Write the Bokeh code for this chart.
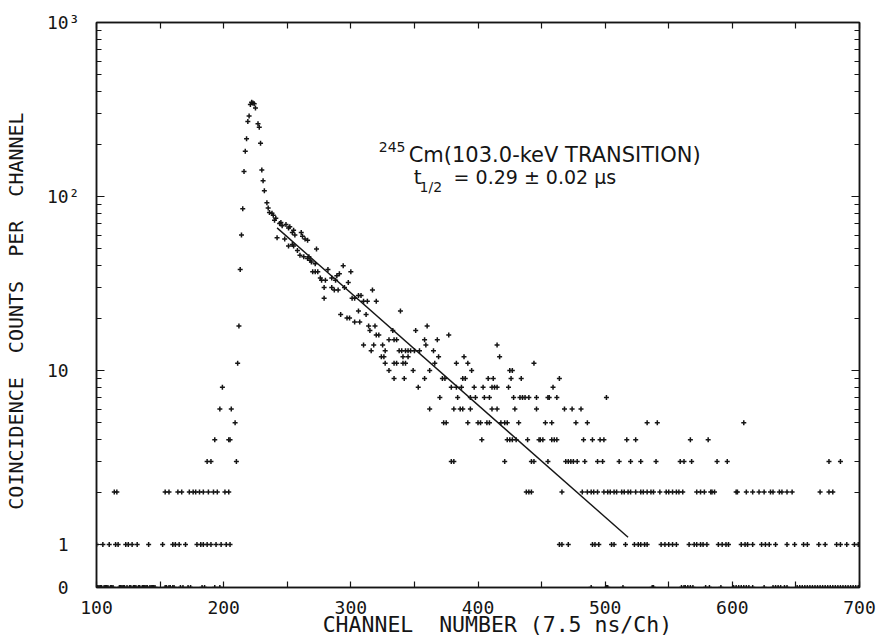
from bokeh.plotting import figure
from bokeh.models import FixedTicker, LinearAxis, LogAxis, Label, CustomJSTickFormatter
from bokeh.embed import file_html
from bokeh.resources import INLINE

# ---------------- data ----------------
# peak region: channel, counts
peak_ch = [197, 199, 206, 209, 211, 212, 213, 214, 215, 216, 217, 218, 219, 220, 221, 222,
           223, 224, 225, 227, 228, 229, 230, 231, 232, 234, 235, 236]
peak_n = [6, 8, 6, 5, 11, 18, 38, 60, 85, 139, 182, 215, 270, 290, 338, 348,
          345, 341, 323, 262, 250, 202, 142, 123, 108, 92, 86, 81]

# decay region (higher counts): channel, counts
decay_ch = [238, 239, 241, 240, 244, 245, 246, 249, 251, 252, 254, 255, 256, 261, 262, 264, 266,
            273, 242, 248, 251, 254, 255, 258, 260, 263, 266, 267, 268, 269, 272, 270, 272, 274,
            276, 277, 279, 280, 282, 285, 285, 287, 288, 289, 290, 291, 294, 295, 298, 300, 279,
            301, 303, 306, 308, 310, 313, 306, 312, 317, 320, 339, 292, 297, 299, 303, 307, 314,
            315, 319, 320, 322, 330, 334, 336, 333, 351, 360, 310, 316, 318, 325, 327, 324, 326,
            338, 340, 343, 345, 347, 350, 354, 341, 345, 334, 336, 341, 343, 327, 330, 349, 362,
            334, 342, 353]
decay_n = [80, 78, 75, 73, 70, 71, 68, 69, 66, 67, 62, 64, 60, 62, 59, 57, 56,
           50, 58, 57, 52, 53, 52, 49, 46, 45, 44, 45, 43, 42, 41, 37, 37, 37,
           34, 33, 30, 33, 38, 34, 30, 29, 33, 35, 29, 36, 40, 30, 32, 37, 26,
           26, 26, 27, 27, 25, 25, 22, 21, 29, 25, 22, 21, 20, 20, 19, 19, 18,
           17, 18, 16, 16, 15, 15, 15, 17, 17, 18, 14, 13, 14, 14, 13, 12, 12,
           13, 13, 13, 13, 13, 13, 13, 12, 12, 11, 11, 11, 11, 11, 10, 10, 10,
           9, 9, 8]

# low-count rows: channels at which the count equals the row value
rows = {
    1: [100, 105, 110, 115, 117, 123, 125, 128, 132, 141, 152, 160, 162, 165, 170, 179, 182,
        184, 187, 190, 194, 198, 202, 205,
        464, 466, 471, 490, 492, 495, 505, 507, 516, 523, 526, 528, 531, 533, 544, 547, 550,
        553, 556, 566, 570, 572, 575, 577, 580, 589, 592, 595, 597, 607, 610, 612, 616, 623,
        626, 629, 634, 643, 649, 656, 659, 668, 673, 682, 685, 690, 696, 699],
    2: [114, 116, 154, 157, 164, 167, 173, 176, 178, 181, 184, 188, 192, 195, 201, 204,
        438, 440, 442, 466, 482, 486, 489, 491, 494, 499, 502, 504, 507, 509, 513, 515, 518,
        520, 524, 528, 530, 533, 536, 538, 543, 548, 550, 553, 556, 558, 561, 572, 575, 578,
        583, 584, 586, 603, 604, 611, 616, 621, 625, 630, 632, 637, 639, 643, 647, 669, 676,
        679],
    3: [187, 190, 210, 379, 381, 421, 442, 444, 455, 469, 471, 473, 475, 478, 484, 494, 498,
        511, 520, 528, 540, 559, 562, 568, 588, 596, 676, 685],
    4: [193, 204, 205, 403, 423, 425, 427, 430, 439, 448, 449, 451, 458, 460, 462, 483, 490,
        496, 499, 517, 524, 567, 581],
    5: [373, 375, 392, 400, 402, 407, 409, 418, 421, 423, 432, 453, 458, 477, 486, 533, 541, 609],
    6: [362, 381, 386, 388, 394, 411, 415, 429, 446, 468, 474, 481],
    7: [370, 384, 394, 398, 405, 409, 428, 433, 435, 437, 440, 446, 455, 456, 462, 501],
    8: [379, 383, 387, 397, 404, 411, 413, 415, 424, 459],
    9: [358, 372, 374, 388, 390, 408, 412, 426, 434, 464],
    10: [395, 425, 427],
    11: [366, 383, 392, 444],
    12: [369, 389, 417],
    13: [365],
    14: [359, 415],
    15: [358, 368],
    16: [377],
}

# channels with zero counts (drawn on the baseline)
zero_ch = [101, 102, 103, 104, 106, 107, 108, 109, 111, 112, 113, 118, 119, 120, 121, 122, 124,
           126, 127, 129, 130, 131, 133, 134, 136, 137, 138, 139, 140, 142, 143, 144, 145, 146,
           154, 155, 157, 158, 160, 161, 166, 168, 172, 174, 183, 185, 193, 197,
           489, 501, 502, 514, 537, 538, 560, 562, 563, 565, 567, 569, 579, 582, 591, 601, 603,
           605, 607, 609, 611, 613, 616, 625, 632, 634, 636, 638, 641, 643, 651, 653, 655, 657,
           659, 661, 663, 665, 667, 669, 671, 673, 675, 677, 679, 681, 683, 685, 687, 689, 691,
           693, 695, 697, 699]

# fitted decay line (end points)
fit_ch = [242, 518]
fit_n = [66, 1.1]

# axis ticks
x_ticks = [100, 200, 300, 400, 500, 600, 700]
x_minor = [150, 250, 350, 450, 550, 650]
ZERO_POS = 0.566          # where the "0" level sits on the log axis
y_ticks = [ZERO_POS, 1, 10, 100, 1000]
NB = "\u00a0"
y_tick_labels = [NB + "0" + NB, NB + "1" + NB, "10" + NB, "10\u00b2", "10\u00b3"]
y_minor = [2, 3, 4, 5, 6, 7, 8, 9, 20, 30, 40, 50, 60, 70, 80, 90,
           200, 300, 400, 500, 600, 700, 800, 900]

# ---------------- build point lists ----------------
xs = list(peak_ch) + list(decay_ch)
ys = list(peak_n) + list(decay_n)
for n, chans in rows.items():
    xs += chans
    ys += [n] * len(chans)

INK = "#151515"
MONO = "DejaVu Sans Mono"
SANS = "DejaVu Sans"

p = figure(width=878, height=641, x_range=(100, 700), y_range=(ZERO_POS, 1000),
           y_axis_type="log", output_backend="svg", toolbar_location=None,
           min_border_left=94, min_border_right=19, min_border_top=22, min_border_bottom=54)
p.grid.visible = False
p.outline_line_color = INK
p.outline_line_width = 1.5

x_ticker = FixedTicker(ticks=x_ticks, minor_ticks=x_minor)
y_ticker = FixedTicker(ticks=y_ticks, minor_ticks=y_minor)
blank = CustomJSTickFormatter(code="return ''")


def style_axis(ax, major_len, minor_len, show_labels):
    ax.axis_line_color = INK
    ax.axis_line_width = 1.5
    ax.major_tick_in = major_len
    ax.major_tick_out = 0
    ax.minor_tick_in = minor_len
    ax.minor_tick_out = 0
    ax.major_tick_line_color = INK
    ax.minor_tick_line_color = INK
    ax.major_tick_line_width = 1.2
    ax.minor_tick_line_width = 1.2
    if show_labels:
        ax.major_label_text_font = MONO
        ax.major_label_text_font_size = "18px"
        ax.major_label_text_color = INK
    else:
        ax.formatter = blank
        ax.major_label_text_font_size = "2px"
        ax.major_label_standoff = 0


xa = p.xaxis[0]
xa.ticker = x_ticker
style_axis(xa, 6, 6, True)
xa.major_label_standoff = 13
xa.major_label_text_line_height = 0.9
xa.axis_label = NB * 3 + "CHANNEL" + NB + NB + "NUMBER" + NB + "(7.5" + NB + "ns/Ch)"
xa.axis_label_text_font = MONO
xa.axis_label_text_font_size = "21.5px"
xa.axis_label_text_font_style = "normal"
xa.axis_label_text_color = INK
xa.axis_label_text_line_height = 0.9
xa.axis_label_standoff = -5

ya = p.yaxis[0]
ya.ticker = y_ticker
style_axis(ya, 8, 5, True)
ya.major_label_overrides = {t: s for t, s in zip(y_ticks, y_tick_labels)}
ya.major_label_standoff = 17
ya.axis_label = ("COINCIDENCE" + NB + NB + "COUNTS" + NB + NB + "PER" + NB + NB + "CHANNEL" + NB)
ya.axis_label_text_font = MONO
ya.axis_label_text_font_size = "20px"
ya.axis_label_text_font_style = "normal"
ya.axis_label_text_color = INK
ya.axis_label_standoff = 16

top = LinearAxis(ticker=x_ticker)
style_axis(top, 6, 6, False)
p.add_layout(top, "above")

right = LogAxis(ticker=y_ticker)
style_axis(right, 8, 5, False)
p.add_layout(right, "right")

# data points
p.scatter(xs, ys, marker="cross", size=5, line_color=INK, line_width=1.5)
p.scatter(zero_ch, [ZERO_POS] * len(zero_ch), marker="cross", size=5,
          line_color=INK, line_width=1.5)

# fitted line
p.line(fit_ch, fit_n, line_color=INK, line_width=1.4)


# annotation
def add_label(x, y, text, size):
    p.add_layout(Label(x=x, y=y, text=text, text_font=SANS, text_font_size=size,
                       text_color=INK, text_baseline="alphabetic", text_align="left"))


add_label(322, 192, "245", "14px")
add_label(345.5, 174, "Cm(103.0-keV TRANSITION)", "21px")
add_label(349.4, 129, "t", "20px")
add_label(354, 113, "1/2", "14px")
add_label(380.8, 129, "= 0.29 \u00b1 0.02 \u03bcs", "19px")

open("out.html", "w").write(file_html(p, INLINE))
